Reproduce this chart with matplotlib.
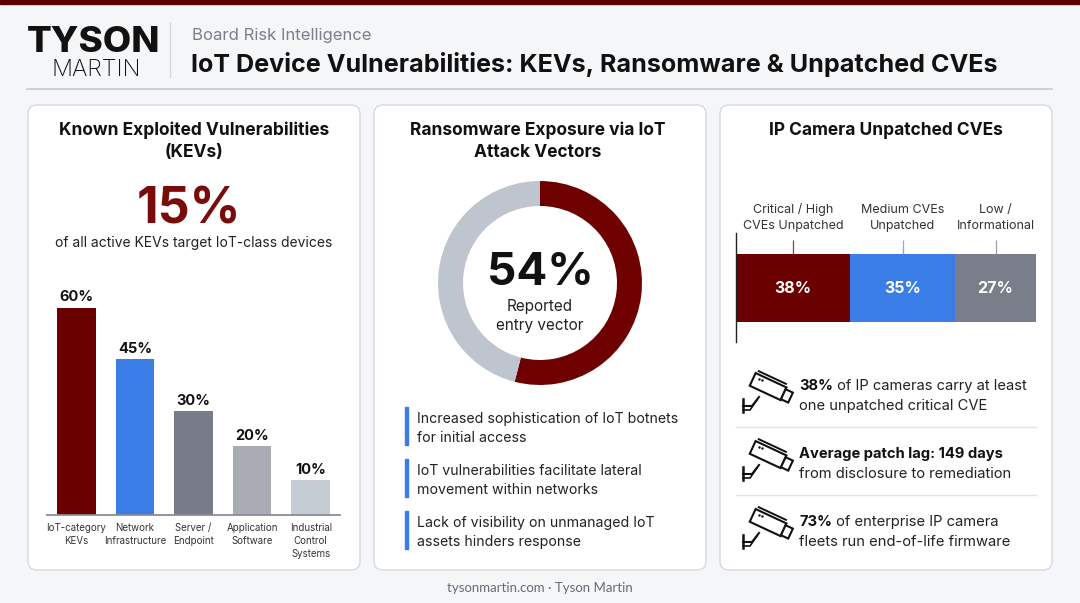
import numpy as np
import matplotlib
matplotlib.use("Agg")
import matplotlib.pyplot as plt
from matplotlib.patches import FancyBboxPatch, Rectangle, Polygon

plt.rcParams['font.family'] = ['Inter', 'DejaVu Sans']

# ---- data ----
kev_categories = ["IoT-category\nKEVs", "Network\nInfrastructure", "Server /\nEndpoint",
                  "Application\nSoftware", "Industrial\nControl\nSystems"]
kev_values = [60, 45, 30, 20, 10]
kev_colors = ["#6B0000", "#3B7DE6", "#787B88", "#A9ACB4", "#C6CCD4"]
kev_headline = "15%"

ransom_values = [54, 46]
ransom_colors = ["#6E0000", "#BEC5CF"]
ransom_points = ["Increased sophistication of IoT botnets\nfor initial access",
                 "IoT vulnerabilities facilitate lateral\nmovement within networks",
                 "Lack of visibility on unmanaged IoT\nassets hinders response"]

cve_labels = ["Critical / High\nCVEs Unpatched", "Medium CVEs\nUnpatched", "Low /\nInformational"]
cve_values = [38, 35, 27]
cve_colors = ["#6B0000", "#3B7DE6", "#7A7E8B"]
cam_facts = [("38%", " of IP cameras carry at least", "one unpatched critical CVE"),
             ("Average patch lag: 149 days", "", "from disclosure to remediation"),
             ("73%", " of enterprise IP camera", "fleets run end-of-life firmware")]

W, H = 1080, 603
fig = plt.figure(figsize=(W / 100, H / 100), dpi=100)
fig.patch.set_facecolor("#F5F6F8")

bg = fig.add_axes([0, 0, 1, 1])
bg.set_xlim(0, W)
bg.set_ylim(H, 0)
bg.axis("off")


def px_axes(x0, y0, x1, y1):
    return fig.add_axes([x0 / W, 1 - y1 / H, (x1 - x0) / W, (y1 - y0) / H])


# top strip and header
bg.add_patch(Rectangle((0, 0), W, 4, color="#5A0000", zorder=3))
bg.text(94, 52, "TYSON", fontsize=26.5, fontweight="heavy", ha="center", va="baseline", color="#111")
bg.text(96, 75.5, "MARTIN", fontsize=16.8, fontweight="light", ha="center", va="baseline", color="#111")
bg.plot([170, 170], [23, 77], color="#D3D6DC", lw=1)
bg.text(192, 40, "Board Risk Intelligence", fontsize=12, color="#7A7F8C", va="baseline")
bg.text(191, 72, "IoT Device Vulnerabilities: KEVs, Ransomware & Unpatched CVEs",
        fontsize=18.1, fontweight="bold", color="#111", va="baseline")
bg.plot([27, 1052], [89, 89], color="#C5CAD6", lw=1.2)

# cards
for x0 in [28, 374, 720]:
    bg.add_patch(FancyBboxPatch((x0, 105), 332, 465, boxstyle="round,pad=0,rounding_size=9",
                                fc="white", ec="#D6D9E0", lw=1, zorder=1))

bg.text(540, 592, "tysonmartin.com · Tyson Martin", fontsize=9.5, color="#666B77",
        ha="center", va="baseline", family=["Lato", "DejaVu Sans"])

# ---- card 1: KEV bars ----
bg.text(194, 135, "Known Exploited Vulnerabilities", fontsize=12.5, fontweight="bold",
        ha="center", va="baseline", color="#111")
bg.text(194, 157, "(KEVs)", fontsize=12.5, fontweight="bold", ha="center", va="baseline", color="#111")
bg.text(189, 223, kev_headline, fontsize=36, fontweight="bold", ha="center", va="baseline", color="#7A0B0B")
bg.text(194, 247, "of all active KEVs target IoT-class devices", fontsize=10,
        ha="center", va="baseline", color="#222")

ax1 = px_axes(47, 280, 340, 515)
x = np.arange(len(kev_values))
ax1.bar(x, kev_values, width=0.66, color=kev_colors, zorder=2)
for xi, v in zip(x, kev_values):
    ax1.text(xi, v + 1.8, f"{v}%", ha="center", va="baseline", fontsize=10.5, fontweight="bold", color="#111")
ax1.set_xlim(-0.5, 4.5)
ax1.set_ylim(0, 68)
ax1.set_xticks(x)
ax1.set_xticklabels(kev_categories, fontsize=7, color="#333", linespacing=1.35)
ax1.tick_params(axis="x", length=0, pad=6)
ax1.set_yticks([])
for s in ["top", "right", "left"]:
    ax1.spines[s].set_visible(False)
ax1.spines["bottom"].set_color("#8A8D96")
ax1.spines["bottom"].set_linewidth(1.3)
ax1.patch.set_alpha(0)

# ---- card 2: ransomware donut ----
bg.text(538, 135, "Ransomware Exposure via IoT", fontsize=12.5, fontweight="bold",
        ha="center", va="baseline", color="#111")
bg.text(538, 157, "Attack Vectors", fontsize=12.5, fontweight="bold", ha="center", va="baseline", color="#111")

ax2 = px_axes(437, 180, 643, 386)
ax2.pie(ransom_values, colors=ransom_colors, startangle=90, counterclock=False,
        radius=1, wedgeprops=dict(width=0.245, linewidth=0))
ax2.set_xlim(-1.01, 1.01)
ax2.set_ylim(-1.01, 1.01)
ax2.text(0, -0.02, f"{ransom_values[0]}%", fontsize=33, fontweight="bold", ha="center", va="baseline", color="#111")
ax2.text(0, -0.27, "Reported", fontsize=11, ha="center", va="baseline", color="#222")
ax2.text(0, -0.46, "entry vector", fontsize=11, ha="center", va="baseline", color="#222")

for i, txt in enumerate(ransom_points):
    top = 407 + i * 52
    bg.add_patch(Rectangle((405, top), 3, 38, color="#3B7DE6", zorder=2))
    l1, l2 = txt.split("\n")
    bg.text(417, top + 16, l1, fontsize=10.2, va="baseline", color="#222")
    bg.text(417, top + 35, l2, fontsize=10.2, va="baseline", color="#222")

# ---- card 3: IP camera CVEs ----
bg.text(886, 135, "IP Camera Unpatched CVEs", fontsize=12.5, fontweight="bold",
        ha="center", va="baseline", color="#111")

ax3 = px_axes(736, 233, 1036, 342)
left = 0
centers = []
for v, c in zip(cve_values, cve_colors):
    ax3.barh(0.495, v, left=left, height=0.624, color=c, zorder=2)
    centers.append(left + v / 2)
    ax3.text(left + v / 2, 0.495, f"{v}%", ha="center", va="center", fontsize=11.5,
             fontweight="bold", color="white", zorder=3)
    left += v
ax3.set_xlim(0, 100)
ax3.set_ylim(0, 1)
lead_colors = ["#8C3A3A", "#7FA8EE", "#9A9DA6"]
for cx, lab, lc in zip(centers, cve_labels, lead_colors):
    ax3.vlines(cx, 0.807, 0.94, color=lc, lw=0.9)
    ax3.text(cx, 1.14, lab, ha="center", va="center", fontsize=9, color="#333",
             linespacing=1.4, clip_on=False)
ax3.set_xticks([])
ax3.set_yticks([])
for s in ["top", "right", "bottom"]:
    ax3.spines[s].set_visible(False)
ax3.spines["left"].set_color("#222")
ax3.spines["left"].set_linewidth(1)
ax3.patch.set_alpha(0)


def draw_camera(x0, y0):
    # simple outline of a wall-mounted camera
    ang = np.deg2rad(25)
    rot = np.array([[np.cos(ang), -np.sin(ang)], [np.sin(ang), np.cos(ang)]])
    c = np.array([x0 + 26, y0 + 12])
    body = np.array([[-18, -7], [16, -7], [16, 7], [-18, 7]]) @ rot.T + c
    bg.add_patch(Polygon(body, closed=True, fc="white", ec="#111", lw=1.5, zorder=4))
    lens = np.array([[16, -5], [24, -5], [24, 6], [16, 6]]) @ rot.T + c
    bg.add_patch(Polygon(lens, closed=True, fc="white", ec="#111", lw=1.5, zorder=4))
    shade = np.array([[-16, -10], [14, -10]]) @ rot.T + c
    bg.plot(shade[:, 0], shade[:, 1], color="#111", lw=1.4, zorder=4)
    dots = np.array([[-12, -3], [-9, -3]]) @ rot.T + c
    bg.plot(dots[:, 0], dots[:, 1], ".", color="#111", ms=1.5, zorder=5)
    bg.plot([x0, x0], [y0 + 24, y0 + 37], color="#111", lw=1.8, zorder=4)
    bg.plot([x0, x0 + 9, x0 + 16], [y0 + 31, y0 + 31, y0 + 22], color="#111", lw=1.5, zorder=4)
    bg.plot([x0, x0 + 7, x0 + 14], [y0 + 35, y0 + 35, y0 + 25], color="#111", lw=1.2, zorder=4)


for i, (b, r, l2) in enumerate(cam_facts):
    base = 393 + i * 68
    draw_camera(743, base - 18)
    t = bg.text(799, base, b, fontsize=10.6, fontweight="bold", va="bottom", color="#111")
    if r:
        bg.annotate(r, xy=(1, 0), xycoords=t, va="bottom", ha="left", fontsize=10.6, color="#222")
    bg.text(799, base + 20, l2, fontsize=10.6, va="bottom", color="#222")
    if i < 2:
        bg.plot([736, 1036], [base + 34, base + 34], color="#E2E4E8", lw=1)

fig.savefig("out.png", dpi=100, facecolor=fig.get_facecolor())
